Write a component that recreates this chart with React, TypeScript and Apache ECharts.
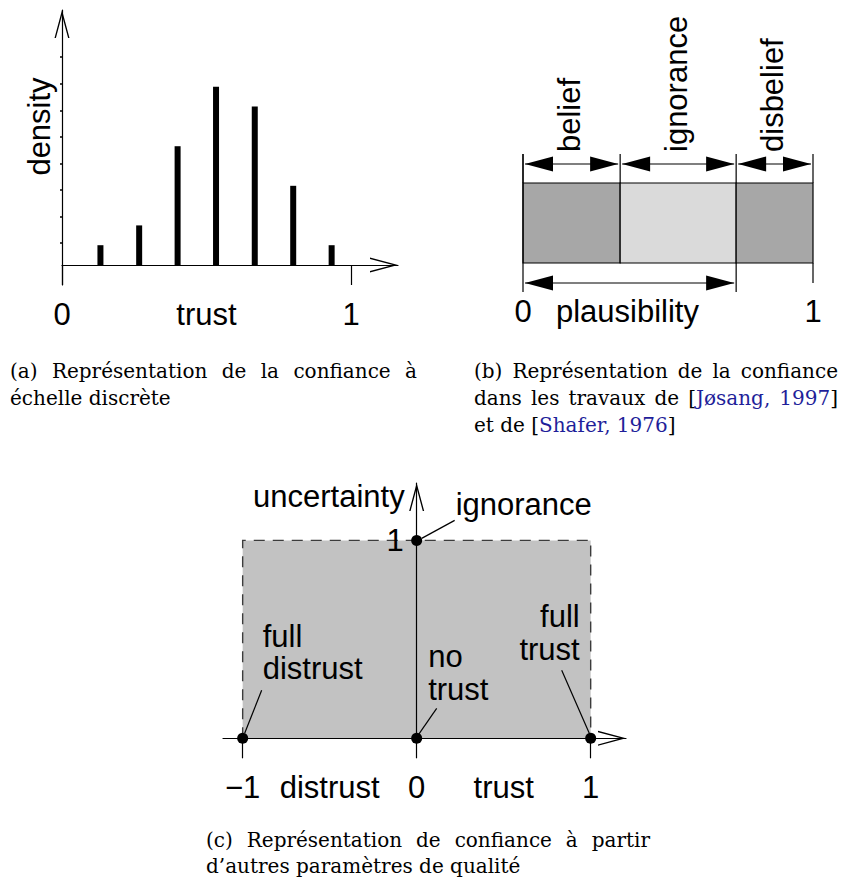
import React, { useEffect, useRef } from 'react';
import * as echarts from 'echarts';

// ---------- (a) discrete trust scale ----------
const trustLevels = [0.133, 0.267, 0.4, 0.533, 0.667, 0.8, 0.933];
const densityValues = [1, 2, 6, 9, 8, 4, 1];
const densityTicks = [1.1, 2.44, 3.79, 5.1, 6.48, 7.78, 9.13, 10.52];
const trustTickValues = [0, 1];
const trustLabelValues = [0, 0.5, 1];
const trustLabelTexts = ['0', 'trust', '1'];

// ---------- (b) belief / ignorance / disbelief ----------
const massNames = ['belief', 'ignorance', 'disbelief'];
const massValues = [0.335, 0.4, 0.265];
const plausibilityLabelValues = [0, 0.36, 1];
const plausibilityLabelTexts = ['0', 'plausibility', '1'];

// ---------- (c) trust / distrust / uncertainty ----------
const trustRange = [-1, 1];
const uncertaintyRange = [0, 1];
const keyPointTrust = [0, -1, 0, 1];
const keyPointUncertainty = [1, 0, 0, 0];
const keyPointNames = ['ignorance', 'full\ndistrust', 'no\ntrust', 'full\ntrust'];
const cTickValues = [-1, 0, 1];
const cLabelValues = [-1, -0.5, 0, 0.5, 1];
const cLabelTexts = ['\u22121', 'distrust', '0', 'trust', '1'];
const uncLabelValues = [1];
const uncLabelTexts = ['1'];

// ---------- captions ----------
const captionA = ['(a) Représentation de la confiance à', 'échelle discrète'];
const captionB = [
  '(b) Représentation de la confiance',
  'dans les travaux de [{Jøsang,} {1997}]',
  'et de [{Shafer,} {1976}]',
];
const captionC = ['(c) Représentation de confiance à partir', 'd\u2019autres paramètres de qualité'];

// ---------- axis ranges (layout) ----------
const A_X = [0, 336 / 289];
const A_Y = [-1.01, 12.88];
const A_H = 275;
const C_X = [-1.113, 1.203];
const C_Y = [0, 1.29];
const C_W = 403;

// ---------- styles ----------
const SANS = '"Liberation Sans", Arial, Helvetica, sans-serif';
const FS = 31;
const SANS_FONT = `${FS}px ${SANS}`;
const CAP_FONT = '20px "DejaVu Serif"';
const LINK = '#1f1f9a';
const INK = '#000';
const DARK = '#a7a7a7';
const LIGHT = '#dadada';
const AREA = '#c2c2c2';

const chevron = (w: number, h: number, t: number) => {
  const a = (t * h) / (w / 2);
  return `path://M${w / 2},0L${w},${h}L${w - t},${h}L${w / 2},${a}L${t},${h}L0,${h}Z`;
};
const ARROW = chevron(15, 28, 1.4);

const axisLineArrow = (onZero: boolean) => ({
  show: true,
  onZero,
  lineStyle: { color: INK, width: 1.2 },
  symbol: ['none', ARROW],
  symbolSize: [15, 28],
  symbolOffset: [0, -14],
});

const lookup = (vals: number[], texts: string[]) => (v: number) => {
  const i = vals.findIndex((x) => Math.abs(x - v) < 1e-6);
  return i >= 0 ? texts[i] : '';
};

const labelStyle = { fontSize: FS, fontFamily: SANS, color: INK };

function captionElements(lines: string[], x0: number, x1: number, y0: number, dy: number) {
  const ctx = document.createElement('canvas').getContext('2d')!;
  ctx.font = CAP_FONT;
  const space = ctx.measureText(' ').width;
  const els: any[] = [];
  lines.forEach((line, li) => {
    const words = line.split(' ');
    const plains = words.map((w) => w.replace(/[{}]/g, ''));
    const widths = plains.map((p) => ctx.measureText(p).width);
    const total = widths.reduce((a, b) => a + b, 0);
    const justify = li < lines.length - 1 && words.length > 1;
    const gap = justify ? (x1 - x0 - total) / (words.length - 1) : space;
    let x = x0;
    words.forEach((w, wi) => {
      els.push({
        type: 'text',
        x,
        y: y0 + li * dy,
        style: {
          text: w.replace(/\{([^}]*)\}/g, '{l|$1}'),
          font: CAP_FONT,
          fill: INK,
          align: 'left',
          verticalAlign: 'middle',
          rich: { l: { fill: LINK, font: CAP_FONT } },
        },
      });
      x += widths[wi] + gap;
    });
  });
  return els;
}

function arrowHead(tipX: number, y: number, dir: number) {
  return {
    type: 'polygon',
    shape: { points: [[tipX, y], [tipX + dir * 28, y - 7.5], [tipX + dir * 28, y + 7.5]] },
    style: { fill: INK },
  };
}

function dimArrow(xa: number, xb: number, y: number) {
  return [
    { type: 'line', shape: { x1: xa + 2, y1: y, x2: xb - 2, y2: y }, style: { stroke: INK, lineWidth: 1.2 } },
    arrowHead(xa + 2, y, 1),
    arrowHead(xb - 2, y, -1),
  ];
}

function vline(x: number, y1: number, y2: number) {
  return { type: 'line', shape: { x1: x, y1, x2: x, y2 }, style: { stroke: INK, lineWidth: 1.2 } };
}

// annotation layout for panel (c): leader [dx1, dy1, dx2, dy2], text offset, line height
const annotLayout = [
  { line: [5, -2, 38, -20], text: [39, -36], align: 'left', lh: 31.5 },
  { line: [2, -5, 19, -48], text: [20, -86], align: 'left', lh: 31.5 },
  { line: [2, -4, 20, -30], text: [11.5, -65], align: 'left', lh: 33 },
  { line: [-1, -4, -29, -68], text: [-11, -105], align: 'right', lh: 33 },
];

function buildOption() {
  const segData: number[][] = [];
  let acc = 0;
  massValues.forEach((v, i) => {
    segData.push([acc, acc + v, i]);
    acc += v;
  });
  const plausibility = massValues[0] + massValues[1];

  // place axes through the data origin (labels follow the line)
  const aXOffset = -((0 - A_Y[0]) / (A_Y[1] - A_Y[0])) * A_H;
  const cYOffset = -((0 - C_X[0]) / (C_X[1] - C_X[0])) * C_W;

  const graphic = [
    ...captionElements(captionA, 10, 417, 371, 27),
    ...captionElements(captionB, 474, 838, 371, 27),
    ...captionElements(captionC, 206, 650, 840, 26),
  ];

  return {
    animation: false,
    backgroundColor: '#fff',
    graphic,
    grid: [
      { left: 62, top: 10, width: 336, height: A_H, show: false },
      { left: 523, top: 140, width: 290, height: 152, show: false },
      { left: 223, top: 483, width: C_W, height: 255.3, show: false },
    ],
    xAxis: [
      {
        type: 'value',
        gridIndex: 0,
        min: A_X[0],
        max: A_X[1],
        offset: aXOffset,
        axisLine: axisLineArrow(false),
        axisTick: { show: true, customValues: trustTickValues, length: 20, inside: false, lineStyle: { color: INK, width: 1.2 } },
        axisLabel: { show: true, customValues: trustLabelValues, formatter: lookup(trustLabelValues, trustLabelTexts), margin: 34, ...labelStyle },
        splitLine: { show: false },
      },
      {
        type: 'value',
        gridIndex: 1,
        min: 0,
        max: 1,
        axisLine: { show: false },
        axisTick: { show: false },
        axisLabel: { show: true, customValues: plausibilityLabelValues, formatter: lookup(plausibilityLabelValues, plausibilityLabelTexts), margin: 4, ...labelStyle },
        splitLine: { show: false },
      },
      {
        type: 'value',
        gridIndex: 2,
        min: C_X[0],
        max: C_X[1],
        axisLine: axisLineArrow(true),
        axisTick: { show: true, customValues: cTickValues, length: 20, inside: false, lineStyle: { color: INK, width: 1.2 } },
        axisLabel: { show: true, customValues: cLabelValues, formatter: lookup(cLabelValues, cLabelTexts), margin: 34, ...labelStyle },
        splitLine: { show: false },
      },
    ],
    yAxis: [
      {
        type: 'value',
        gridIndex: 0,
        min: A_Y[0],
        max: A_Y[1],
        axisLine: axisLineArrow(true),
        axisTick: { show: true, customValues: densityTicks, length: 2, inside: false, lineStyle: { color: INK, width: 1.5 } },
        axisLabel: { show: false },
        splitLine: { show: false },
        name: 'density',
        nameLocation: 'middle',
        nameRotate: 90,
        nameGap: 7,
        nameTextStyle: { ...labelStyle, padding: [0, 0, 0, 42] },
      },
      {
        type: 'value',
        gridIndex: 1,
        min: 0,
        max: 3,
        show: false,
      },
      {
        type: 'value',
        gridIndex: 2,
        min: C_Y[0],
        max: C_Y[1],
        offset: cYOffset,
        axisLine: axisLineArrow(false),
        axisTick: { show: false },
        axisLabel: { show: true, customValues: uncLabelValues, formatter: lookup(uncLabelValues, uncLabelTexts), margin: 13, ...labelStyle },
        splitLine: { show: false },
        name: 'uncertainty',
        nameLocation: 'end',
        nameGap: -13,
        nameTextStyle: { ...labelStyle, align: 'right', verticalAlign: 'middle', padding: [0, 12, 0, 0] },
      },
    ],
    series: [
      {
        type: 'bar',
        xAxisIndex: 0,
        yAxisIndex: 0,
        barWidth: 6,
        itemStyle: { color: INK },
        data: trustLevels.map((t, i) => [t, densityValues[i]]),
      },
      {
        type: 'custom',
        xAxisIndex: 1,
        yAxisIndex: 1,
        encode: { x: [0, 1], y: 2 },
        data: segData,
        renderItem: (params: any, api: any) => {
          const s = api.value(0);
          const e = api.value(1);
          const i = api.value(2);
          const top = params.coordSys.y;
          const x0 = api.coord([s, 0])[0];
          const x1 = api.coord([e, 0])[0];
          const barTop = top + 43;
          const barH = 80;
          const children: any[] = [
            {
              type: 'rect',
              shape: { x: x0, y: barTop, width: x1 - x0, height: barH },
              style: { fill: i === 1 ? LIGHT : DARK, stroke: INK, lineWidth: 1.2 },
            },
            vline(x0, top + 14, barTop),
            ...dimArrow(x0, x1, top + 24),
            {
              type: 'text',
              x: (x0 + x1) / 2 - 2,
              y: top + 12,
              rotation: Math.PI / 2,
              style: { text: massNames[i], font: SANS_FONT, fill: INK, align: 'left', verticalAlign: 'middle' },
            },
          ];
          if (i === massValues.length - 1) children.push(vline(x1, top + 14, barTop));
          return { type: 'group', children };
        },
      },
      {
        type: 'custom',
        xAxisIndex: 1,
        yAxisIndex: 1,
        encode: { x: [0, 1, 2] },
        data: [[0, plausibility, 1]],
        renderItem: (params: any, api: any) => {
          const top = params.coordSys.y;
          const x0 = api.coord([api.value(0), 0])[0];
          const xp = api.coord([api.value(1), 0])[0];
          const x1 = api.coord([api.value(2), 0])[0];
          const barBottom = top + 123;
          return {
            type: 'group',
            children: [
              vline(x0, top + 14, top + 152),
              vline(xp, barBottom, top + 152),
              vline(x1, barBottom, top + 143),
              ...dimArrow(x0, xp, top + 143),
            ],
          };
        },
      },
      {
        type: 'custom',
        xAxisIndex: 2,
        yAxisIndex: 2,
        z: -1,
        encode: { x: [0, 1], y: [2, 3] },
        data: [[trustRange[0], trustRange[1], uncertaintyRange[0], uncertaintyRange[1]]],
        renderItem: (params: any, api: any) => {
          const a = api.coord([api.value(0), api.value(2)]);
          const b = api.coord([api.value(1), api.value(3)]);
          return {
            type: 'group',
            children: [
              {
                type: 'rect',
                shape: { x: a[0], y: b[1], width: b[0] - a[0], height: a[1] - b[1] },
                style: { fill: AREA },
              },
              {
                type: 'polyline',
                shape: { points: [[a[0], a[1]], [a[0], b[1]], [b[0], b[1]], [b[0], a[1]]] },
                style: { stroke: '#3c3c3c', lineWidth: 1.4, lineDash: [11, 8], fill: null },
              },
            ],
          };
        },
      },
      {
        type: 'custom',
        xAxisIndex: 2,
        yAxisIndex: 2,
        z: 5,
        encode: { x: 0, y: 1 },
        data: keyPointTrust.map((t, i) => [t, keyPointUncertainty[i], i]),
        renderItem: (params: any, api: any) => {
          const p = api.coord([api.value(0), api.value(1)]);
          const i = api.value(2);
          const L = annotLayout[i];
          return {
            type: 'group',
            children: [
              {
                type: 'line',
                shape: { x1: p[0] + L.line[0], y1: p[1] + L.line[1], x2: p[0] + L.line[2], y2: p[1] + L.line[3] },
                style: { stroke: INK, lineWidth: 1.2 },
              },
              {
                type: 'text',
                x: p[0] + L.text[0],
                y: p[1] + L.text[1],
                style: {
                  text: keyPointNames[i],
                  font: SANS_FONT,
                  fill: INK,
                  align: L.align,
                  verticalAlign: 'middle',
                  lineHeight: L.lh,
                },
              },
            ],
          };
        },
      },
      {
        type: 'scatter',
        xAxisIndex: 2,
        yAxisIndex: 2,
        z: 10,
        symbol: 'circle',
        symbolSize: 11,
        itemStyle: { color: INK, opacity: 1 },
        data: keyPointTrust.map((t, i) => [t, keyPointUncertainty[i]]),
      },
    ],
  };
}

export default function App() {
  const ref = useRef<HTMLDivElement>(null);
  useEffect(() => {
    document.body.style.margin = '0';
    const chart = echarts.init(ref.current!, null, { renderer: 'svg' });
    chart.setOption(buildOption() as any);
    return () => chart.dispose();
  }, []);
  return <div ref={ref} style={{ width: 841, height: 884 }} />;
}
